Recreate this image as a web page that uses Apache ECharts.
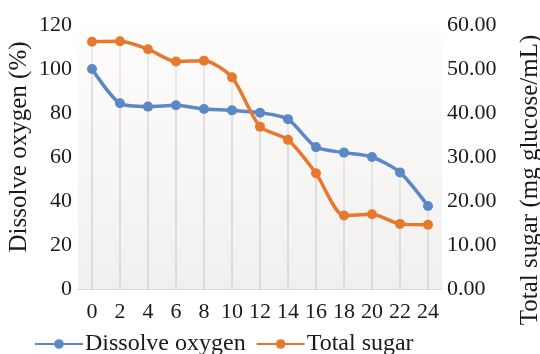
<!DOCTYPE html>
<html>
<head>
<meta charset="utf-8">
<script src="https://cdn.jsdelivr.net/npm/echarts@6/dist/echarts.min.js"></script>
<style>
  html, body { margin: 0; padding: 0; background: #ffffff; }
  #chart { width: 540px; height: 354px; }
</style>
</head>
<body>
<div id="chart"></div>
<script>
// Fermentation time (h)
const hours = ['0', '2', '4', '6', '8', '10', '12', '14', '16', '18', '20', '22', '24'];
// Dissolved oxygen, % saturation (left axis)
const dissolveOxygen = [100, 84.4, 82.9, 83.5, 81.8, 81.2, 80.1, 77.2, 64.5, 62.0, 60.0, 53.0, 37.7];
// Total sugar, mg glucose/mL (right axis)
const totalSugar = [56.2, 56.3, 54.5, 51.7, 51.9, 48.1, 36.9, 33.9, 26.3, 16.7, 17.0, 14.8, 14.6];
// Axis tick values
const oxygenTicks = [0, 20, 40, 60, 80, 100, 120];
const sugarTicks = [0, 10, 20, 30, 40, 50, 60];

const BLUE = '#5B88C6';
const ORANGE = '#E8782E';
const FONT = '"Liberation Serif", "Times New Roman", serif';

const chart = echarts.init(document.getElementById('chart'), null, { renderer: 'canvas' });

// thin gray drop lines from each point down to the category axis
const dropLine = (data, axisIndex) => ({
  type: 'bar',
  yAxisIndex: axisIndex,
  data: data,
  barWidth: 1,
  barGap: '-100%',
  silent: true,
  itemStyle: { color: '#d6d6d6' },
  z: 1,
  legendHoverLink: false
});

chart.setOption({
  animation: false,
  backgroundColor: '#ffffff',
  grid: {
    left: 78, right: 98, top: 25, bottom: 65,
    containLabel: false,
    outerBoundsMode: 'none',
    show: true,
    borderWidth: 0,
    backgroundColor: {
      type: 'linear', x: 0, y: 0, x2: 0, y2: 1,
      colorStops: [
        { offset: 0, color: '#fffdfb' },
        { offset: 1, color: '#f1f0ef' }
      ]
    }
  },
  legend: {
    left: 34,
    top: 332,
    padding: 0,
    itemWidth: 48,
    itemHeight: 12,
    itemGap: 10,
    data: ['Dissolve oxygen', 'Total sugar'],
    textStyle: { fontFamily: FONT, fontSize: 24, color: '#1a1a1a', padding: [0, 0, 0, -3] }
  },
  xAxis: {
    type: 'category',
    data: hours,
    boundaryGap: true,
    axisLine: { show: true, lineStyle: { color: '#d9d9d9', width: 1 } },
    axisTick: { show: false },
    splitLine: { show: false },
    axisLabel: {
      interval: 0,
      margin: 12,
      fontFamily: FONT,
      fontSize: 22,
      color: '#1a1a1a'
    }
  },
  yAxis: [
    {
      type: 'value',
      min: oxygenTicks[0],
      max: oxygenTicks[oxygenTicks.length - 1],
      interval: oxygenTicks[1] - oxygenTicks[0],
      name: 'Dissolve oxygen (%)',
      nameLocation: 'middle',
      nameGap: 46,
      nameMoveOverlap: false,
      nameRotate: 90,
      nameTextStyle: { fontFamily: FONT, fontSize: 25, color: '#1a1a1a', padding: [0, 0, 0, 20] },
      axisLine: { show: false },
      axisTick: { show: false },
      splitLine: { show: false },
      axisLabel: { margin: 6, fontFamily: FONT, fontSize: 22, color: '#1a1a1a' }
    },
    {
      type: 'value',
      min: sugarTicks[0],
      max: sugarTicks[sugarTicks.length - 1],
      interval: sugarTicks[1] - sugarTicks[0],
      name: 'Total sugar (mg glucose/mL)',
      nameLocation: 'middle',
      nameGap: 76,
      nameMoveOverlap: false,
      nameRotate: 90,
      nameTextStyle: { fontFamily: FONT, fontSize: 25, color: '#1a1a1a', padding: [0, 46, 0, 0] },
      axisLine: { show: false },
      axisTick: { show: false },
      splitLine: { show: false },
      axisLabel: {
        margin: 5,
        fontFamily: FONT,
        fontSize: 22,
        color: '#1a1a1a',
        formatter: v => v.toFixed(2)
      }
    }
  ],
  series: [
    dropLine(dissolveOxygen, 0),
    dropLine(totalSugar, 1),
    {
      name: 'Dissolve oxygen',
      type: 'line',
      yAxisIndex: 0,
      data: dissolveOxygen,
      symbol: 'circle',
      symbolSize: 10,
      smooth: 0.25,
      lineStyle: { color: BLUE, width: 3.5 },
      itemStyle: { color: BLUE },
      z: 3
    },
    {
      name: 'Total sugar',
      type: 'line',
      yAxisIndex: 1,
      data: totalSugar,
      symbol: 'circle',
      symbolSize: 10,
      smooth: 0.25,
      lineStyle: { color: ORANGE, width: 3.5 },
      itemStyle: { color: ORANGE },
      z: 4
    }
  ]
});
</script>
</body>
</html>
